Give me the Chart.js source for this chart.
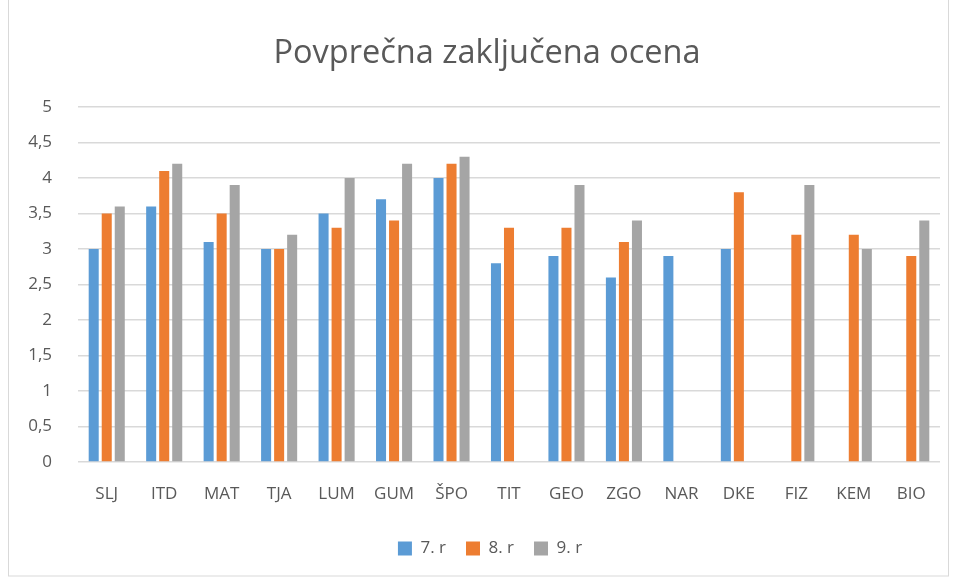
<!DOCTYPE html>
<html>
<head>
<meta charset="utf-8">
<script src="https://cdn.jsdelivr.net/npm/chart.js@4"></script>
<style>
  html, body { margin: 0; padding: 0; background: #fff; }
  #wrap { width: 956px; height: 579px; }
</style>
</head>
<body>
<div id="wrap"><canvas id="chart" width="956" height="579"></canvas></div>
<script>
const categories = ["SLJ", "ITD", "MAT", "TJA", "LUM", "GUM", "ŠPO", "TIT", "GEO", "ZGO", "NAR", "DKE", "FIZ", "KEM", "BIO"];
const grade7 = [3, 3.6, 3.1, 3, 3.5, 3.7, 4, 2.8, 2.9, 2.6, 2.9, 3, null, null, null];
const grade8 = [3.5, 4.1, 3.5, 3, 3.3, 3.4, 4.2, 3.3, 3.3, 3.1, null, 3.8, 3.2, 3.2, 2.9];
const grade9 = [3.6, 4.2, 3.9, 3.2, 4, 4.2, 4.3, null, 3.9, 3.4, null, null, 3.9, 3, 3.4];
const seriesNames = ["7. r", "8. r", "9. r"];
const titleText = "Povprečna zaključena ocena";

const FONT = "'Open Sans', sans-serif";
const TEXT = "#595959";

// outer frame + title centred on the frame (like Excel), not on the plot
const frame = {
  id: "frame",
  afterLayout(chart) {
    chart.legend.left += 12;
    chart.legend.right += 12;
  },
  afterDraw(chart) {
    const c = chart.ctx;
    c.save();
    c.strokeStyle = "#d9d9d9";
    c.lineWidth = 1;
    c.strokeRect(8.5, -1, 940, 577);
    c.fillStyle = TEXT;
    c.font = "32.5px " + FONT;
    c.textAlign = "center";
    c.textBaseline = "middle";
    c.fillText(titleText, 487, 54);
    c.restore();
  },
};

const bar = (label, data, color) => ({
  label, data, backgroundColor: color, borderWidth: 0,
  categoryPercentage: 0.68, barPercentage: 0.77,
});

new Chart(document.getElementById("chart"), {
  type: "bar",
  data: {
    labels: categories,
    datasets: [
      bar(seriesNames[0], grade7, "#5B9BD5"),
      bar(seriesNames[1], grade8, "#ED7D31"),
      bar(seriesNames[2], grade9, "#A5A5A5"),
    ],
  },
  options: {
    responsive: false,
    animation: false,
    layout: { padding: { left: 16, right: 16, top: 107, bottom: 12 } },
    plugins: {
      title: { display: false },
      legend: {
        position: "bottom",
        labels: {
          color: TEXT,
          font: { family: FONT, size: 17 },
          boxWidth: 14, boxHeight: 14, padding: 20,
        },
      },
      tooltip: { enabled: false },
    },
    scales: {
      x: {
        grid: { display: false },
        border: { display: false },
        ticks: { color: TEXT, font: { family: FONT, size: 17 }, padding: 14 },
        afterFit(s) { s.height = 58; },
      },
      y: {
        min: 0, max: 5,
        ticks: {
          stepSize: 0.5, color: TEXT, padding: 26,
          font: { family: FONT, size: 17 },
          callback: v => String(v).replace(".", ","),
        },
        grid: { color: "#d9d9d9", lineWidth: 1.5, drawTicks: false },
        border: { display: false },
        afterFit(s) { s.width = 62; },
      },
    },
  },
  plugins: [frame],
});
</script>
</body>
</html>
